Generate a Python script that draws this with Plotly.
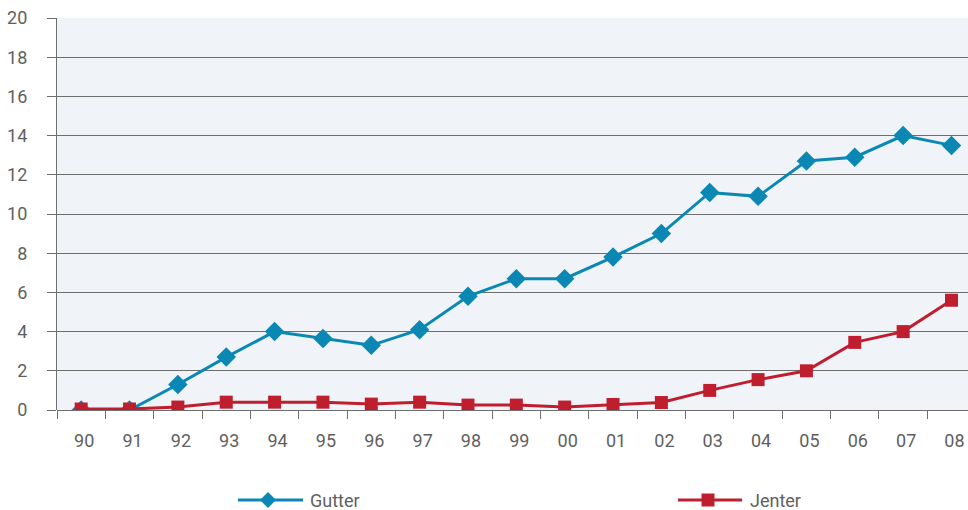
import plotly.graph_objects as go

# Years on the category axis
years = ["90", "91", "92", "93", "94", "95", "96", "97", "98", "99",
         "00", "01", "02", "03", "04", "05", "06", "07", "08"]

# Series values (per cent)
gutter = [0.0, 0.0, 1.3, 2.7, 4.0, 3.65, 3.3, 4.1, 5.8, 6.7,
          6.7, 7.8, 9.0, 11.1, 10.9, 12.7, 12.9, 14.0, 13.5]
jenter = [0.05, 0.05, 0.15, 0.4, 0.4, 0.4, 0.3, 0.4, 0.25, 0.25,
          0.15, 0.28, 0.38, 1.0, 1.55, 2.0, 3.45, 4.0, 5.6]

y_ticks = [0, 2, 4, 6, 8, 10, 12, 14, 16, 18, 20]

BLUE = "#0a88b3"
RED = "#be1e2d"
GRID = "#6e6e6e"
TEXT = "#5f5f5f"
FONT = "Roboto"
FSIZE = 18

W, H = 968, 510
ML, MT, MB = 57, 18, 100
PLOT_W = W - ML
PLOT_H = H - MT - MB

fig = go.Figure()
fig.add_trace(go.Scatter(
    x=years, y=gutter, mode="lines+markers", name="Gutter",
    line=dict(color=BLUE, width=3),
    marker=dict(symbol="diamond", size=15, color=BLUE),
    showlegend=False,
))
fig.add_trace(go.Scatter(
    x=years, y=jenter, mode="lines+markers", name="Jenter",
    line=dict(color=RED, width=3),
    marker=dict(symbol="square", size=13, color=RED),
    showlegend=False,
))

# Category band width in pixels; the last band runs past the right edge
band_px = 48.35
x_hi = PLOT_W / band_px - 0.5

fig.update_layout(
    width=W, height=H,
    margin=dict(l=ML, r=0, t=MT, b=MB, pad=0),
    paper_bgcolor="white",
    plot_bgcolor="#f0f4f8",
    font=dict(family=FONT, size=FSIZE, color=TEXT),
    xaxis=dict(
        type="category", range=[-0.5, x_hi],
        showgrid=False, zeroline=False,
        showline=False,
        ticks="outside", tickson="boundaries", ticklen=8, tickwidth=1.2,
        tickcolor=GRID, ticklabelstandoff=18, ticklabelshift=3,
        tickfont=dict(size=FSIZE, color=TEXT),
    ),
    yaxis=dict(
        range=[0, 20], tickvals=y_ticks,
        showgrid=True, gridcolor=GRID, gridwidth=1.2,
        zeroline=True, zerolinecolor=GRID, zerolinewidth=1.2,
        showline=True, linecolor=GRID, linewidth=1.2,
        ticks="outside", ticklen=9, tickwidth=1.2, tickcolor=GRID,
        ticklabelstandoff=16,
        tickfont=dict(size=FSIZE, color=TEXT),
    ),
)


def px_x(px):
    return (px - ML) / PLOT_W


def px_y(py):
    return (H - MB - py) / PLOT_H


# Legend drawn beneath the chart: long line with centred marker, then label
legend_y = px_y(500)
legend_items = [
    ("Gutter", BLUE, "diamond", 268, 238, 303, 308),
    ("Jenter", RED, "square", 708, 678, 742, 748),
]
shapes = []
annotations = []
for name, color, symbol, cx, lx0, lx1, tx in legend_items:
    ax = px_x(cx)
    shapes.append(dict(
        type="line", xref="paper", yref="paper",
        xsizemode="pixel", xanchor=ax, x0=lx0 - cx, x1=lx1 - cx,
        y0=legend_y, y1=legend_y,
        line=dict(color=color, width=3),
    ))
    if symbol == "diamond":
        shapes.append(dict(
            type="path", xref="paper", yref="paper",
            xsizemode="pixel", ysizemode="pixel",
            xanchor=ax, yanchor=legend_y,
            path="M -8 0 L 0 8 L 8 0 L 0 -8 Z",
            fillcolor=color, line=dict(width=0),
        ))
    else:
        shapes.append(dict(
            type="rect", xref="paper", yref="paper",
            xsizemode="pixel", ysizemode="pixel",
            xanchor=ax, yanchor=legend_y,
            x0=-6.5, x1=6.5, y0=-6.5, y1=6.5,
            fillcolor=color, line=dict(width=0),
        ))
    annotations.append(dict(
        text=name, xref="paper", yref="paper",
        x=px_x(tx), y=legend_y, xanchor="left", yanchor="middle",
        showarrow=False, font=dict(family=FONT, size=FSIZE, color=TEXT),
    ))

fig.update_layout(shapes=shapes, annotations=annotations)

fig.write_html("out.html")
